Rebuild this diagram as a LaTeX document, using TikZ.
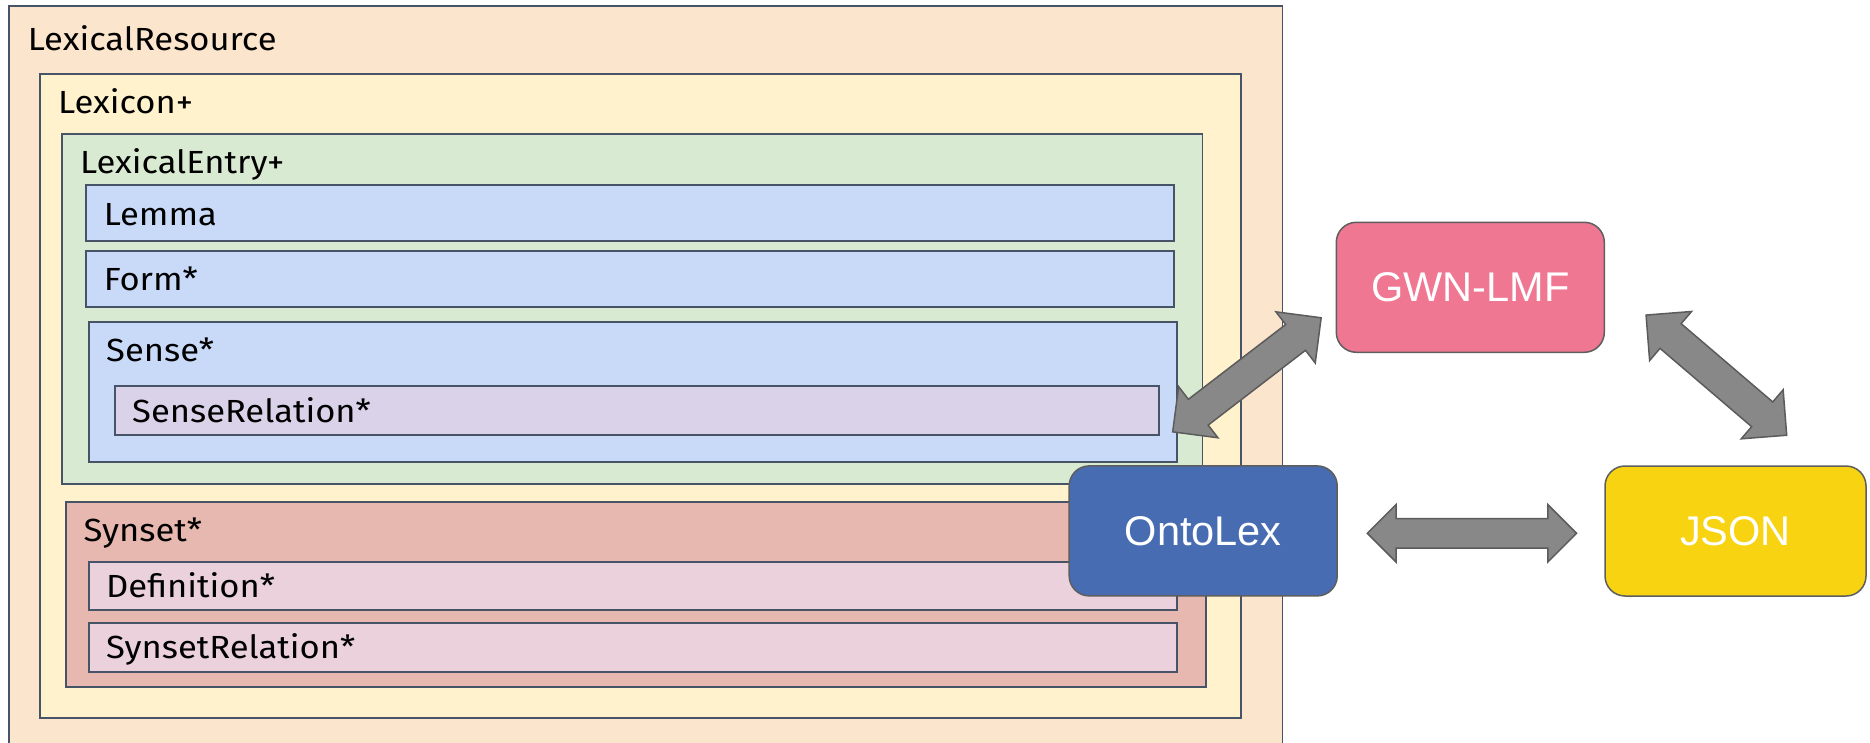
\documentclass[tikz,border=0pt]{standalone}
\usepackage{fontspec}
\setmainfont[FakeStretch=1.08]{Fira Sans}
\newfontfamily\fmtfont{Liberation Sans}
\usepackage{tikz}
\usetikzlibrary{calc}
\usetikzlibrary{shapes.arrows}
\definecolor{boxline}{HTML}{475468}
\definecolor{resfill}{HTML}{FCE5CD}
\definecolor{lexfill}{HTML}{FFF2CC}
\definecolor{entryfill}{HTML}{D9EAD3}
\definecolor{partfill}{HTML}{C9DAF8}
\definecolor{relfill}{HTML}{D9D2E9}
\definecolor{synfill}{HTML}{E6B8AF}
\definecolor{deffill}{HTML}{EAD1DC}
\definecolor{gwnfill}{HTML}{F07792}
\definecolor{ontofill}{HTML}{486CB2}
\definecolor{jsonfill}{HTML}{F8D311}
\definecolor{fmtline}{HTML}{5E5E5E}
\definecolor{arrfill}{HTML}{888888}
\definecolor{arrline}{HTML}{5B5B5B}
\tikzset{box/.style={draw=boxline, line width=1.6pt, rectangle, anchor=north west, inner sep=0pt}}
\tikzset{tag/.style={anchor=base west, inner sep=0pt, font=\fontsize{32}{38}\selectfont}}
\tikzset{fmt/.style={draw=fmtline, line width=1.5pt, rounded corners=20pt, text=white,
    minimum width=268pt, minimum height=130pt, font=\fmtfont\fontsize{41.5}{48}\selectfont}}
\tikzset{dblarrow/.style={double arrow, double arrow tip angle=90, draw=arrline, fill=arrfill,
    line width=1.5pt, inner xsep=0pt, minimum width=0pt}}

\begin{document}
\begin{tikzpicture}[x=1pt, y=-1pt]
    \useasboundingbox (0,0) rectangle (1870,742);
    \clip (0,0) rectangle (1870,742);

    \node[box, fill=resfill, minimum width=1273.7pt, minimum height=745pt] (res) at (8,5) {};
    \node[box, fill=lexfill, minimum width=1201pt, minimum height=644pt] (lexicon) at (39,73) {};
    \node[box, fill=entryfill, minimum width=1140.7pt, minimum height=350pt] (entry) at (61,133) {};
    \node[box, fill=partfill, minimum width=1088pt, minimum height=56pt] (lemma) at (85,184) {};
    \node[box, fill=partfill, minimum width=1088pt, minimum height=56pt] (form) at (85,250) {};
    \node[box, fill=partfill, minimum width=1088pt, minimum height=140pt] (sense) at (88,321) {};
    \node[box, fill=relfill, minimum width=1044pt, minimum height=49pt] (senserel) at (114,385) {};
    \node[box, fill=synfill, minimum width=1140pt, minimum height=185pt] (synset) at (65,501) {};
    \node[box, fill=deffill, minimum width=1088pt, minimum height=48pt] (defn) at (88,561) {};
    \node[box, fill=deffill, minimum width=1088pt, minimum height=49pt] (synrel) at (88,622) {};

    \node[tag] (res-t) at (27.7,50) {LexicalResource};
    \node[tag] (lexicon-t) at (58,113) {Lexicon+};
    \node[tag] (entry-t) at (80,173) {LexicalEntry+};
    \node[tag] (lemma-t) at (103.6,225) {Lemma};
    \node[tag] (form-t) at (103.6,290) {Form*};
    \node[tag] (sense-t) at (106,361) {Sense*};
    \node[tag] (senserel-t) at (132,422) {SenseRelation*};
    \node[tag] (synset-t) at (83.5,541) {Synset*};
    \node[tag] (defn-t) at (106,597) {Definition*};
    \node[tag] (synrel-t) at (106,658) {SynsetRelation*};

    \node[fmt, fill=gwnfill] (gwn) at (1470.3,287.3) {GWN-LMF};
    \node[fmt, fill=ontofill] (onto) at (1203.2,530.9) {OntoLex};
    \node[fmt, fill=jsonfill, minimum width=261pt] (json) at (1735.5,531) {JSON};

    \coordinate (a1) at ($(onto.north)+(-30.5,-33.3)$);
    \coordinate (a2) at ($(gwn.south west)+(-14.4,-35.3)$);
    \coordinate (b1) at ($(gwn.south east)+(41,-38)$);
    \coordinate (b2) at ($(json.north)+(51.2,-30)$);
    \coordinate (c1) at ($(onto.east)+(29.4,2.4)$);
    \coordinate (c2) at ($(json.west)+(-27.7,2.3)$);

    \path let \p1=(a1), \p2=(a2), \n1={atan2(\y2-\y1,\x2-\x1)}, \n2={veclen(\x2-\x1,\y2-\y1)} in
        node[dblarrow, inner ysep=15.5pt, double arrow head extend=16pt, rotate=\n1, minimum height=\n2]
        (a) at ($(a1)!.5!(a2)$) {};
    \path let \p1=(b1), \p2=(b2), \n1={atan2(\y2-\y1,\x2-\x1)}, \n2={veclen(\x2-\x1,\y2-\y1)} in
        node[dblarrow, inner ysep=15.5pt, double arrow head extend=16pt, rotate=\n1, minimum height=\n2]
        (b) at ($(b1)!.5!(b2)$) {};
    \path let \p1=(c1), \p2=(c2), \n1={atan2(\y2-\y1,\x2-\x1)}, \n2={veclen(\x2-\x1,\y2-\y1)} in
        node[dblarrow, inner ysep=14pt, double arrow head extend=14pt, rotate=\n1, minimum height=\n2]
        (c) at ($(c1)!.5!(c2)$) {};
\end{tikzpicture}
\end{document}
